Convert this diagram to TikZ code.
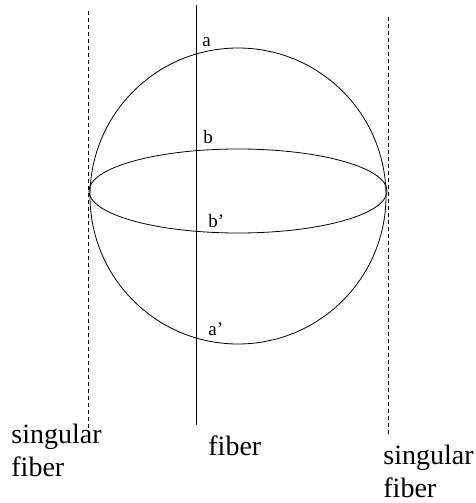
\documentclass[tikz,border=0pt]{standalone}
\usepackage{fontspec}
\setmainfont{Liberation Serif}
\usepackage{tikz}

\begin{document}
\begin{tikzpicture}[x=1pt,y=-1pt,line width=0.8pt,
    fiberline/.style={dash pattern=on 4pt off 3pt},
    pointlabel/.style={anchor=base west,inner sep=0pt,font=\fontsize{19}{22}\selectfont},
    fiberlabel/.style={anchor=base west,inner sep=0pt,align=left,font=\fontsize{28}{33}\selectfont}]
    \useasboundingbox (0,0) rectangle (475,503);

    % Sphere and equator
    \draw (238,196) circle (148);
    \draw (238,191) ellipse (149 and 42);

    % Fibers
    \coordinate (fibertop) at (196,5);
    \coordinate (fiberbot) at (196,425);
    \coordinate (singLtop) at (88,11);
    \coordinate (singLbot) at (88,433);
    \coordinate (singRtop) at (388,17);
    \coordinate (singRbot) at (388,435);
    \draw (fibertop) -- (fiberbot);
    \draw[fiberline] (singLtop) -- (singLbot);
    \draw[fiberline] (singRtop) -- (singRbot);

    % Labels (base is the last line)
    \node[pointlabel] (a) at (202,47) {a};
    \node[pointlabel] (b) at (203,143) {b};
    \node[pointlabel] (bp) at (208,227) {b'};
    \node[pointlabel] (ap) at (208,335) {a'};
    \node[fiberlabel] (singL) at (11,476) {singular\\fiber};
    \node[fiberlabel] (fib) at (208,455) {fiber};
    \node[fiberlabel] (singR) at (383,497) {singular\\fiber};
\end{tikzpicture}
\end{document}
